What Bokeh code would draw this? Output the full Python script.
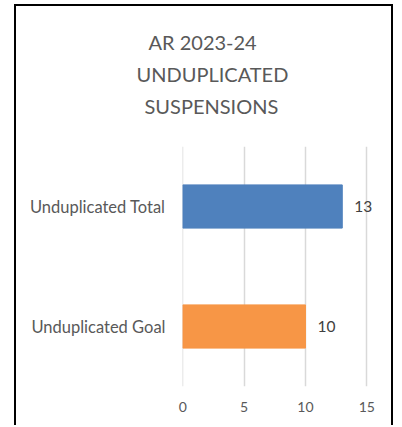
from bokeh.plotting import figure
from bokeh.models import FactorRange, Range1d, FixedTicker, Title, ColumnDataSource
from bokeh.embed import file_html
from bokeh.resources import INLINE
from bokeh.core.properties import value

categories = ["Unduplicated Goal", "Unduplicated Total"]
values = [10, 13]
colors = ["#F79646", "#4F81BD"]
x_ticks = [0, 5, 10, 15]
title_lines = ["AR 2023-24", "UNDUPLICATED", "SUSPENSIONS"]

FONT = "Lato"

src = ColumnDataSource(dict(cat=categories, val=values, color=colors,
                            lbl=[str(v) for v in values]))

p = figure(width=379, height=421,
           y_range=FactorRange(factors=categories, range_padding=0),
           x_range=Range1d(-0.02, 16.36),
           output_backend="svg", toolbar_location=None,
           min_border_left=166, min_border_right=12,
           min_border_top=140, min_border_bottom=41)
p.title = None
p.margin = (4, 0, 0, 14)
p.styles = {"border-left": "2px solid black", "border-top": "2px solid black",
            "border-right": "2px solid black"}

# spacer title between the heading and the plot area
p.add_layout(Title(text=" ", text_font=FONT, text_font_size="20px", standoff=0), "above")
offsets = [-34, -46, -38]
for line, off in reversed(list(zip(title_lines, offsets))):
    p.add_layout(Title(text=line, align="left", offset=off,
                       text_font=FONT, text_font_size="20px",
                       text_font_style="normal", text_color="#595959",
                       standoff=6), "above")

p.hbar(y="cat", right="val", left=0, height=0.36, color="color", source=src)
p.text(x="val", y="cat", text="lbl", source=src, x_offset=12,
       text_baseline="middle", text_align="left",
       text_font=value(FONT), text_font_size="15.5px", text_color="#404040")

p.outline_line_color = None
p.ygrid.grid_line_color = None
p.xgrid.grid_line_color = "#D9D9D9"
p.xgrid.grid_line_width = 1.5
p.xaxis.ticker = FixedTicker(ticks=x_ticks)
for ax in (p.xaxis[0], p.yaxis[0]):
    ax.axis_line_color = None
    ax.major_tick_line_color = None
    ax.minor_tick_line_color = None
    ax.major_tick_out = 0
    ax.major_tick_in = 0
    ax.minor_tick_out = 0
    ax.major_label_text_font = FONT
    ax.major_label_text_color = "#595959"
p.xaxis.major_label_text_font_size = "14px"
p.yaxis.major_label_text_font_size = "16.5px"
p.xaxis.major_label_standoff = 15
p.yaxis.major_label_standoff = 17

open("out.html", "w").write(file_html(p, INLINE))
